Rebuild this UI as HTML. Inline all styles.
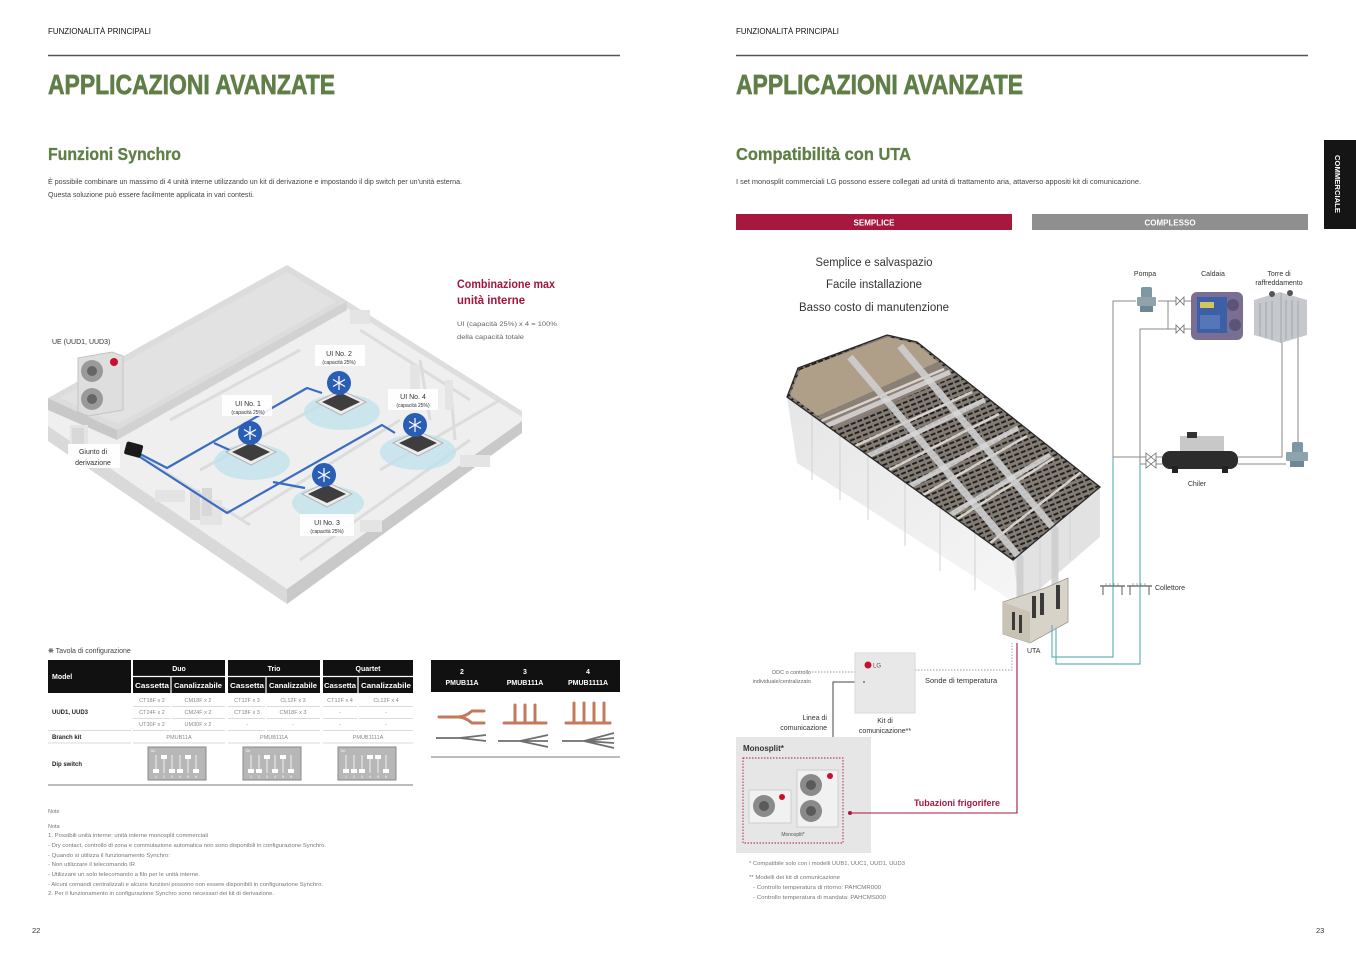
<!DOCTYPE html>
<html><head><meta charset="utf-8">
<style>
html,body{margin:0;padding:0;background:#fff;}
svg{display:block;font-family:"Liberation Sans",sans-serif;}
</style></head><body>
<svg width="1356" height="959" viewBox="0 0 1356 959" xmlns="http://www.w3.org/2000/svg" font-family="Liberation Sans, sans-serif">
<defs>
<pattern id="seats" width="7" height="5" patternUnits="userSpaceOnUse" patternTransform="rotate(-22)">
<rect width="7" height="5" fill="#837c75"/>
<rect x="0" y="1.2" width="5" height="1.9" fill="#1f1b18"/>
</pattern>
<linearGradient id="wallL" x1="0" y1="0" x2="1" y2="1"><stop offset="0" stop-color="#e6e6e6"/><stop offset="1" stop-color="#f6f6f6"/></linearGradient>
</defs>

<!-- ================= LEFT PAGE ================= -->
<text x="48" y="34" font-size="8.5" fill="#111" textLength="103" lengthAdjust="spacingAndGlyphs">FUNZIONALITÀ PRINCIPALI</text>
<line x1="48" y1="55.5" x2="620" y2="55.5" stroke="#555" stroke-width="1.6"/>
<text x="48" y="94" font-size="28" font-weight="bold" fill="#5f7f46" stroke="#5f7f46" stroke-width="0.7" textLength="287" lengthAdjust="spacingAndGlyphs">APPLICAZIONI AVANZATE</text>
<text x="48" y="160" font-size="17.5" font-weight="bold" fill="#5f7f46" stroke="#5f7f46" stroke-width="0.3" textLength="133" lengthAdjust="spacingAndGlyphs">Funzioni Synchro</text>
<text x="48" y="184" font-size="7" fill="#444" textLength="414" lengthAdjust="spacingAndGlyphs">È possibile combinare un massimo di 4 unità interne utilizzando un kit di derivazione e impostando il dip switch per un'unità esterna.</text>
<text x="48" y="197" font-size="7" fill="#444" textLength="206" lengthAdjust="spacingAndGlyphs">Questa soluzione può essere facilmente applicata in vari contesti.</text>

<!-- Left building -->
<g>
<polygon points="48,410 117,438 347,302 522,412 522,421 287,589 48,426" fill="#efefef"/>
<polygon points="48,426 287,589 287,604 48,441" fill="#d9d9d9"/>
<polygon points="287,589 522,421 522,433 287,604" fill="#c9c9c9"/>
<polygon points="347,301 522,411 522,417 347,308" fill="#dedede"/>
<!-- slab -->
<polygon points="48,398 287,265 347,301 117,430" fill="#dcdcdc"/>
<polygon points="60,398 287,272 336,302 118,424" fill="#e2e2e2"/>
<polygon points="48,398 117,430 117,440 48,410" fill="#c8c8c8"/>
<polygon points="117,430 347,301 347,310 117,440" fill="#d2d2d2"/>
<!-- interior partitions -->
<g stroke="#dcdcdc" stroke-width="3" fill="none">
<path d="M170,420 L300,350"/><path d="M200,470 L330,400"/><path d="M360,330 L470,400"/>
<path d="M300,560 L470,440"/><path d="M240,520 L400,420"/><path d="M130,450 L250,525"/>
<path d="M420,360 L430,420"/><path d="M450,380 L455,440"/><path d="M380,470 L500,400"/>
</g>
<g fill="#e4e4e4">
<rect x="70" y="425" width="18" height="22"/><rect x="200" y="500" width="22" height="25"/>
<rect x="155" y="490" width="30" height="12"/><rect x="410" y="365" width="10" height="28"/>
<rect x="445" y="380" width="8" height="30"/><rect x="350" y="310" width="20" height="14"/>
<rect x="460" y="455" width="30" height="12"/><rect x="360" y="520" width="22" height="12"/>
</g>
<g fill="#d8d8d8"><rect x="72" y="428" width="12" height="16"/><rect x="190" y="490" width="10" height="30"/><rect x="202" y="488" width="10" height="28"/></g>
<!-- glows -->
<g fill="#bfe2ed" opacity="0.75">
<ellipse cx="252" cy="462" rx="38" ry="18"/><ellipse cx="342" cy="412" rx="38" ry="18"/>
<ellipse cx="328" cy="503" rx="36" ry="17"/><ellipse cx="418" cy="452" rx="38" ry="18"/>
</g>
<!-- UE unit -->
<polygon points="78,358 112,352 123,356 123,410 88,416 78,412" fill="#dedede" stroke="#c4c4c4"/>
<circle cx="92" cy="371" r="11" fill="#9a9a9a"/><circle cx="92" cy="371" r="5" fill="#666"/>
<circle cx="92" cy="399" r="11" fill="#9a9a9a"/><circle cx="92" cy="399" r="5" fill="#666"/>
<circle cx="114" cy="362" r="4" fill="#c8102e"/>
<!-- pipes -->
<g fill="none" stroke="#3a6cc4" stroke-width="2.2" stroke-linejoin="round">
<path d="M140,454 L167,468 L307,388 L322,393"/>
<path d="M140,457 L227,513 L382,425 L395,433"/>
<path d="M273,482 L305,488"/>
<path d="M214,443 L234,452"/>
</g>
<rect x="125" y="443" width="17" height="13" rx="2" fill="#1a1a1a" transform="rotate(15 133 450)"/>
<!-- units -->
<g>
<polygon points="226,452 251,440 276,452 251,465" fill="#ececec" stroke="#b5b5b5"/>
<polygon points="232,452 251,443 270,452 251,461" fill="#3e3e3e"/>
<circle cx="250" cy="433" r="12" fill="#2a5db4"/>
<polygon points="316,402 341,390 366,402 341,415" fill="#ececec" stroke="#b5b5b5"/>
<polygon points="322,402 341,393 360,402 341,411" fill="#3e3e3e"/>
<circle cx="339" cy="383" r="12" fill="#2a5db4"/>
<polygon points="302,494 327,482 352,494 327,507" fill="#ececec" stroke="#b5b5b5"/>
<polygon points="308,494 327,485 346,494 327,503" fill="#3e3e3e"/>
<circle cx="324" cy="475" r="12" fill="#2a5db4"/>
<polygon points="393,443 418,431 443,443 418,456" fill="#ececec" stroke="#b5b5b5"/>
<polygon points="399,443 418,434 437,443 418,452" fill="#3e3e3e"/>
<circle cx="415" cy="425" r="12" fill="#2a5db4"/>
</g>
<g stroke="#fff" stroke-width="1.2">
<path d="M250,426 V440 M244,429.5 L256,436.5 M244,436.5 L256,429.5"/>
<path d="M339,376 V390 M333,379.5 L345,386.5 M333,386.5 L345,379.5"/>
<path d="M324,468 V482 M318,471.5 L330,478.5 M318,478.5 L330,471.5"/>
<path d="M415,418 V432 M409,421.5 L421,428.5 M409,428.5 L421,421.5"/>
</g>
<!-- labels -->
<g fill="#fff" opacity="0.9">
<rect x="222" y="395" width="50" height="21"/><rect x="315" y="345" width="50" height="21"/>
<rect x="388" y="389" width="50" height="21"/><rect x="300" y="514" width="54" height="22"/>
<rect x="68" y="444" width="52" height="24"/>
</g>
<g fill="#333" text-anchor="middle">
<text x="248" y="406" font-size="7">UI No. 1</text><text x="248" y="414" font-size="5">(capacità 25%)</text>
<text x="339" y="356" font-size="7">UI No. 2</text><text x="339" y="364" font-size="5">(capacità 25%)</text>
<text x="413" y="399" font-size="7">UI No. 4</text><text x="413" y="407" font-size="5">(capacità 25%)</text>
<text x="327" y="525" font-size="7">UI No. 3</text><text x="327" y="533" font-size="5">(capacità 25%)</text>
<text x="93" y="454" font-size="7">Giunto di</text><text x="93" y="465" font-size="7">derivazione</text>
</g>
<text x="52" y="344" font-size="7" fill="#333">UE (UUD1, UUD3)</text>
</g>

<text x="457" y="288" font-size="12" font-weight="bold" fill="#a3163c" textLength="98" lengthAdjust="spacingAndGlyphs">Combinazione max</text>
<text x="457" y="304" font-size="12" font-weight="bold" fill="#a3163c" textLength="68" lengthAdjust="spacingAndGlyphs">unità interne</text>
<text x="457" y="326" font-size="6.5" fill="#666" textLength="100" lengthAdjust="spacingAndGlyphs">UI (capacità 25%) x 4 = 100%</text>
<text x="457" y="339" font-size="6.5" fill="#666" textLength="67" lengthAdjust="spacingAndGlyphs">della capacità totale</text>

<!-- Table -->
<text x="48" y="653" font-size="7" fill="#444">❋ Tavola di configurazione</text>
<rect x="48" y="660" width="83" height="33" fill="#111"/>
<rect x="133" y="660" width="92" height="33" fill="#111"/>
<rect x="228" y="660" width="92" height="33" fill="#111"/>
<rect x="323" y="660" width="90" height="33" fill="#111"/>
<g stroke="#fff" stroke-width="1.2">
<line x1="133" y1="676.5" x2="225" y2="676.5"/><line x1="228" y1="676.5" x2="320" y2="676.5"/><line x1="323" y1="676.5" x2="413" y2="676.5"/>
<line x1="171" y1="677" x2="171" y2="693"/><line x1="266" y1="677" x2="266" y2="693"/><line x1="358" y1="677" x2="358" y2="693"/>
</g>
<g fill="#fff" font-weight="bold" font-size="7" text-anchor="middle">
<text x="52" y="679" text-anchor="start">Model</text>
<text x="179" y="671">Duo</text><text x="274" y="671">Trio</text><text x="368" y="671">Quartet</text>
<text x="152" y="688" textLength="34" lengthAdjust="spacingAndGlyphs">Cassetta</text>
<text x="198" y="688" textLength="48" lengthAdjust="spacingAndGlyphs">Canalizzabile</text>
<text x="247" y="688" textLength="34" lengthAdjust="spacingAndGlyphs">Cassetta</text>
<text x="293" y="688" textLength="48" lengthAdjust="spacingAndGlyphs">Canalizzabile</text>
<text x="340" y="688" textLength="32" lengthAdjust="spacingAndGlyphs">Cassetta</text>
<text x="386" y="688" textLength="50" lengthAdjust="spacingAndGlyphs">Canalizzabile</text>
</g>
<g fill="#888" font-size="5.5" text-anchor="middle">
<text x="152" y="702">CT18F x 2</text><text x="198" y="702">CM18F x 2</text><text x="247" y="702">CT12F x 3</text><text x="293" y="702">CL12F x 3</text><text x="340" y="702">CT12F x 4</text><text x="386" y="702">CL12F x 4</text>
<text x="152" y="714">CT24F x 2</text><text x="198" y="714">CM24F x 2</text><text x="247" y="714">CT18F x 3</text><text x="293" y="714">CM18F x 3</text><text x="340" y="714">-</text><text x="386" y="714">-</text>
<text x="152" y="726">UT30F x 2</text><text x="198" y="726">UM30F x 2</text><text x="247" y="726">-</text><text x="293" y="726">-</text><text x="340" y="726">-</text><text x="386" y="726">-</text>
<text x="179" y="739">PMUB11A</text><text x="274" y="739">PMUB111A</text><text x="368" y="739">PMUB1111A</text>
</g>
<g stroke="#d0d0d0" stroke-width="0.8">
<path d="M133,706.5 H170 M172,706.5 H225 M228,706.5 H265 M267,706.5 H320 M323,706.5 H357 M359,706.5 H413"/>
<path d="M133,718.5 H170 M172,718.5 H225 M228,718.5 H265 M267,718.5 H320 M323,718.5 H357 M359,718.5 H413"/>
<path d="M48,730.5 H131 M133,730.5 H170 M172,730.5 H225 M228,730.5 H265 M267,730.5 H320 M323,730.5 H357 M359,730.5 H413"/>
<path d="M48,743 H131 M133,743 H225 M228,743 H320 M323,743 H413"/>
</g>
<text x="52" y="714" font-size="6" font-weight="bold" fill="#222">UUD1, UUD3</text>
<text x="52" y="739" font-size="6" font-weight="bold" fill="#222">Branch kit</text>
<text x="52" y="766" font-size="6" font-weight="bold" fill="#222">Dip switch</text>
<line x1="48" y1="785" x2="413" y2="785" stroke="#bdbdbd" stroke-width="2"/>

<!-- dip switches -->
<g>
<rect x="148" y="747" width="58" height="33" fill="#b7b7b7" stroke="#8a8a8a"/>
<rect x="243" y="747" width="58" height="33" fill="#b7b7b7" stroke="#8a8a8a"/>
<rect x="338" y="747" width="58" height="33" fill="#b7b7b7" stroke="#8a8a8a"/>
<g fill="none" stroke="#fff" stroke-width="0.8">
<path d="M156,755 v18 M164,755 v18 M172,755 v18 M180,755 v18 M188,755 v18 M196,755 v18"/>
<path d="M251,755 v18 M259,755 v18 M267,755 v18 M275,755 v18 M283,755 v18 M291,755 v18"/>
<path d="M346,755 v18 M354,755 v18 M362,755 v18 M370,755 v18 M378,755 v18 M386,755 v18"/>
</g>
<g fill="#fff">
<rect x="153" y="769" width="6" height="4"/><rect x="161" y="755" width="6" height="4"/><rect x="169" y="769" width="6" height="4"/><rect x="177" y="769" width="6" height="4"/><rect x="185" y="755" width="6" height="4"/><rect x="193" y="769" width="6" height="4"/>
<rect x="248" y="769" width="6" height="4"/><rect x="256" y="769" width="6" height="4"/><rect x="264" y="755" width="6" height="4"/><rect x="272" y="769" width="6" height="4"/><rect x="280" y="755" width="6" height="4"/><rect x="288" y="769" width="6" height="4"/>
<rect x="343" y="769" width="6" height="4"/><rect x="351" y="769" width="6" height="4"/><rect x="359" y="769" width="6" height="4"/><rect x="367" y="755" width="6" height="4"/><rect x="375" y="755" width="6" height="4"/><rect x="383" y="769" width="6" height="4"/>
</g>
<g fill="#fff" font-size="3.5" text-anchor="middle">
<text x="156" y="778">1</text><text x="164" y="778">2</text><text x="172" y="778">3</text><text x="180" y="778">4</text><text x="188" y="778">5</text><text x="196" y="778">6</text>
<text x="251" y="778">1</text><text x="259" y="778">2</text><text x="267" y="778">3</text><text x="275" y="778">4</text><text x="283" y="778">5</text><text x="291" y="778">6</text>
<text x="346" y="778">1</text><text x="354" y="778">2</text><text x="362" y="778">3</text><text x="370" y="778">4</text><text x="378" y="778">5</text><text x="386" y="778">6</text>
<text x="153" y="752">On</text><text x="248" y="752">On</text><text x="343" y="752">On</text>
</g>
</g>

<!-- right table -->
<rect x="431" y="660" width="189" height="32" fill="#111"/>
<g fill="#fff" font-size="7" font-weight="bold" text-anchor="middle">
<text x="462" y="674">2</text><text x="462" y="685">PMUB11A</text>
<text x="525" y="674">3</text><text x="525" y="685">PMUB111A</text>
<text x="588" y="674">4</text><text x="588" y="685">PMUB1111A</text>
</g>
<g fill="none" stroke="#c47a5a" stroke-width="3" stroke-linecap="round">
<path d="M439,717 H458 Q465,717 472,711 H484 M458,717 Q465,717 472,723 H484"/>
<path d="M504,723 H546 M515,723 V705 M525,723 V705 M535,723 V705"/>
<path d="M566,723 H610 M574,723 V703 M584,723 V703 M594,723 V703 M604,723 V703"/>
</g>
<g fill="none" stroke="#6f6f6f" stroke-width="1.8">
<path d="M436,738 H460 L486,735 M460,738 L486,741"/>
<path d="M498,741 H520 L548,735 M520,741 L548,741 M520,741 L548,747"/>
<path d="M562,741 H584 L614,733 M584,741 L614,738 M584,741 L614,743 M584,741 L614,748"/>
</g>
<line x1="431" y1="757" x2="620" y2="757" stroke="#bdbdbd" stroke-width="2"/>

<!-- notes -->
<g fill="#777" font-size="5.5">
<text x="48" y="813">Note</text>
<text x="48" y="828">Nota</text>
<text x="48" y="837" textLength="160" lengthAdjust="spacingAndGlyphs">1. Possibili unità interne: unità interne monosplit commerciali</text>
<text x="48" y="847" textLength="278" lengthAdjust="spacingAndGlyphs">- Dry contact, controllo di zona e commutazione automatica non sono disponibili in configurazione Synchro.</text>
<text x="48" y="857" textLength="122" lengthAdjust="spacingAndGlyphs">- Quando si utilizza il funzionamento Synchro:</text>
<text x="48" y="866" textLength="87" lengthAdjust="spacingAndGlyphs">- Non utilizzare il telecomando IR</text>
<text x="48" y="876" textLength="152" lengthAdjust="spacingAndGlyphs">- Utilizzare un solo telecomando a filo per le unità interne.</text>
<text x="48" y="886" textLength="275" lengthAdjust="spacingAndGlyphs">- Alcuni comandi centralizzati e alcune funzioni possono non essere disponibili in configurazione Synchro.</text>
<text x="48" y="895" textLength="226" lengthAdjust="spacingAndGlyphs">2. Per il funzionamento in configurazione Synchro sono necessari dei kit di derivazione.</text>
</g>
<text x="32" y="933" font-size="7.5" fill="#333">22</text>

<!-- ================= RIGHT PAGE ================= -->
<text x="736" y="34" font-size="8.5" fill="#111" textLength="103" lengthAdjust="spacingAndGlyphs">FUNZIONALITÀ PRINCIPALI</text>
<line x1="736" y1="55.5" x2="1308" y2="55.5" stroke="#555" stroke-width="1.6"/>
<text x="736" y="94" font-size="28" font-weight="bold" fill="#5f7f46" stroke="#5f7f46" stroke-width="0.7" textLength="287" lengthAdjust="spacingAndGlyphs">APPLICAZIONI AVANZATE</text>
<text x="736" y="160" font-size="17.5" font-weight="bold" fill="#5f7f46" stroke="#5f7f46" stroke-width="0.3" textLength="175" lengthAdjust="spacingAndGlyphs">Compatibilità con UTA</text>
<text x="736" y="184" font-size="7" fill="#444" textLength="405" lengthAdjust="spacingAndGlyphs">I set monosplit commerciali LG possono essere collegati ad unitá di trattamento aria, attaverso appositi kit di comunicazione.</text>

<rect x="1324" y="140" width="32" height="89" fill="#151515"/>
<text x="1335" y="184" font-size="7" font-weight="bold" fill="#fff" text-anchor="middle" transform="rotate(90 1335 184)" textLength="58" lengthAdjust="spacingAndGlyphs">COMMERCIALE</text>

<rect x="736" y="214" width="276" height="16" fill="#a8173d"/>
<rect x="1032" y="214" width="276" height="16" fill="#8f8f8f"/>
<text x="874" y="225.5" font-size="8" font-weight="bold" fill="#fff" text-anchor="middle">SEMPLICE</text>
<text x="1170" y="225.5" font-size="8" font-weight="bold" fill="#fff" text-anchor="middle">COMPLESSO</text>

<g fill="#333" font-size="11.5" text-anchor="middle">
<text x="874" y="266" textLength="117" lengthAdjust="spacingAndGlyphs">Semplice e salvaspazio</text>
<text x="874" y="288" textLength="96" lengthAdjust="spacingAndGlyphs">Facile installazione</text>
<text x="874" y="311" textLength="150" lengthAdjust="spacingAndGlyphs">Basso costo di manutenzione</text>
</g>

<!-- right building -->
<g>
<polygon points="787,397 1013,560 1020,606 797,463" fill="url(#wallL)"/>
<polygon points="1013,560 1100,487 1100,537 1020,606" fill="#e2e2e2"/>
<g stroke="#d2d2d2" stroke-width="1">
<path d="M812,415 V480 M840,435 V500 M868,455 V520 M905,481 V546 M940,506 V571 M975,531 V590 M1040,540 V590 M1070,514 V560"/>
</g>
<polygon points="787,397 798,368 887,335 917,342 1100,487 1013,560" fill="url(#seats)"/>
<polygon points="790,395 800,370 888,337 917,344 938,362 818,416" fill="#b09f88"/>
<polygon points="818,416 938,362 955,376 835,428" fill="#8a8076"/>
<!-- interior walls -->
<g stroke="#e2ddd5" stroke-width="2.5" fill="none" opacity="0.9">
<path d="M821,421 L944,369"/><path d="M855,446 L972,392"/><path d="M889,470 L999,414"/>
<path d="M923,495 L1027,436"/><path d="M957,519 L1054,458"/><path d="M990,543 L1081,472"/>
</g>
<!-- ducts -->
<g stroke="#cfcfcf" stroke-width="7" fill="none" opacity="0.9" stroke-linecap="butt">
<path d="M850,357 L1020,558 V604"/>
<path d="M900,346 L1055,530 V594"/>
</g>
<g stroke="#d9d9d9" stroke-width="5" fill="none" opacity="0.85">
<path d="M826,426 L950,372"/><path d="M868,456 L985,400"/><path d="M910,486 L1018,428"/><path d="M950,515 L1050,455"/>
</g>
<polygon points="787,397 798,368 887,335 917,342 1100,487 1013,560" fill="none" stroke="#2a2a2a" stroke-width="1.3"/>
<!-- UTA -->
<polygon points="1003,602 1045,588 1068,578 1068,622 1030,643 1003,634" fill="#d8d3c8" stroke="#9c968a" stroke-width="0.8"/>
<polygon points="1003,602 1030,612 1030,643 1003,634" fill="#c9c3b6"/>
<g fill="#3a3a3a"><rect x="1032" y="596" width="4" height="22"/><rect x="1040" y="593" width="4" height="22"/><rect x="1056" y="585" width="4" height="24"/><rect x="1012" y="612" width="3" height="18"/><rect x="1019" y="615" width="3" height="18"/></g>
</g>
<text x="1027" y="653" font-size="7" fill="#333">UTA</text>

<!-- piping diagram -->
<g fill="none" stroke="#8a8a8a" stroke-width="1">
<path d="M1113,457 V301 H1136 M1158,301 H1176 M1184,301 H1192"/>
<path d="M1168,301 V329"/>
<path d="M1140,464 V329 H1176 M1184,329 H1192"/>
<path d="M1113,457 H1146 M1156,457 H1163"/>
<path d="M1140,464 H1146 M1156,464 H1163"/>
<path d="M1238,457 H1282 V342"/>
<path d="M1238,464 H1286 M1298,443 V332"/>
</g>
<g fill="none" stroke="#63b3bb" stroke-width="1.2">
<path d="M1113,457 V657 H1052 V625"/>
<path d="M1140,464 V664 H1056 V628"/>
</g>
<!-- valves -->
<g fill="#fff" stroke="#6a6a6a" stroke-width="0.8">
<path d="M1176,297 L1180,301 L1176,305 Z M1184,297 L1180,301 L1184,305 Z"/>
<path d="M1176,325 L1180,329 L1176,333 Z M1184,325 L1180,329 L1184,333 Z"/>
<path d="M1146,453 L1151,457 L1146,461 Z M1156,453 L1151,457 L1156,461 Z"/>
<path d="M1146,460 L1151,464 L1146,468 Z M1156,460 L1151,464 L1156,468 Z"/>
</g>
<!-- pump 1 -->
<g>
<rect x="1141" y="287" width="11" height="11" rx="2" fill="#7d97a4"/>
<rect x="1137" y="297" width="19" height="9" rx="1" fill="#8fa3ad"/>
<rect x="1140" y="306" width="13" height="6" fill="#6f8795"/>
</g>
<!-- caldaia -->
<g>
<rect x="1191" y="292" width="52" height="48" rx="6" fill="#7a6f92"/>
<rect x="1197" y="297" width="30" height="36" fill="#3d5fa8"/>
<rect x="1200" y="302" width="14" height="6" fill="#d8c25a"/>
<circle cx="1233" cy="305" r="6" fill="#5b5475"/><circle cx="1235" cy="325" r="6" fill="#5b5475"/>
<rect x="1200" y="315" width="20" height="14" fill="#5577b8"/>
</g>
<!-- tower -->
<g>
<polygon points="1254,300 1280,292 1307,300 1307,335 1281,343 1254,335" fill="#c5c9cd"/>
<g stroke="#9aa0a6" stroke-width="0.8"><path d="M1260,303 V336 M1266,302 V338 M1272,301 V340 M1286,300 V340 M1292,300 V338 M1298,301 V337 M1281,293 V343"/></g>
<circle cx="1272" cy="294" r="3" fill="#555"/><circle cx="1290" cy="293" r="3" fill="#555"/>
</g>
<!-- chiller -->
<g>
<rect x="1180" y="436" width="44" height="16" fill="#c8c8c8"/>
<rect x="1187" y="432" width="10" height="6" fill="#333"/>
<rect x="1162" y="451" width="76" height="18" rx="8" fill="#2c2c2c"/>
<rect x="1172" y="466" width="6" height="7" fill="#222"/><rect x="1222" y="466" width="6" height="7" fill="#222"/>
</g>
<!-- pump 2 -->
<g>
<rect x="1292" y="442" width="11" height="11" rx="2" fill="#7d97a4"/>
<rect x="1286" y="452" width="22" height="9" rx="1" fill="#8fa3ad"/>
<rect x="1290" y="461" width="14" height="6" fill="#6f8795"/>
</g>
<!-- collettore -->
<g stroke="#777" fill="none">
<path d="M1100,586 H1125 M1127,586 H1152" stroke-width="1.6"/>
<path d="M1103,586 V595 M1122,586 V595 M1130,586 V595 M1149,586 V595" stroke-width="1.2"/>
<path d="M1106,583 V586 M1110,583 V586 M1114,583 V586 M1118,583 V586 M1133,583 V586 M1137,583 V586 M1141,583 V586 M1145,583 V586" stroke-width="0.6"/>
</g>
<g fill="#333" font-size="7" text-anchor="middle">
<text x="1145" y="276">Pompa</text>
<text x="1213" y="276">Caldaia</text>
<text x="1279" y="276">Torre di</text>
<text x="1279" y="285">raffreddamento</text>
<text x="1197" y="486">Chiler</text>
</g>
<text x="1155" y="590" font-size="7" fill="#333">Collettore</text>

<!-- control side -->
<g fill="none" stroke="#9a9a9a" stroke-width="0.9" stroke-dasharray="1.5,1.5">
<path d="M812,672 H855"/>
<path d="M915,670 H1012 V643"/>
</g>
<path d="M855,682 H833 V748" fill="none" stroke="#444" stroke-width="1"/>
<circle cx="833" cy="748" r="2" fill="#333"/>
<rect x="855" y="653" width="60" height="60" fill="#e8e8e8" stroke="#dadada"/>
<circle cx="868" cy="665" r="3.5" fill="#c8102e"/>
<text x="873" y="667.5" font-size="6" fill="#555">LG</text>
<circle cx="864" cy="682" r="1" fill="#777"/>
<rect x="736" y="737" width="135" height="116" fill="#e6e6e6"/>
<rect x="743" y="758" width="100" height="85" fill="none" stroke="#a8173d" stroke-width="0.9" stroke-dasharray="1.5,1.5"/>
<!-- monosplit units -->
<g>
<rect x="749" y="790" width="42" height="33" fill="#f1f1f1" stroke="#cfcfcf"/>
<circle cx="764" cy="806" r="11" fill="#8a8a8a"/><circle cx="764" cy="806" r="5" fill="#5a5a5a"/>
<circle cx="782" cy="797" r="3" fill="#c8102e"/>
<rect x="797" y="770" width="41" height="57" fill="#f1f1f1" stroke="#cfcfcf"/>
<circle cx="811" cy="785" r="11" fill="#8a8a8a"/><circle cx="811" cy="785" r="5" fill="#5a5a5a"/>
<circle cx="811" cy="811" r="11" fill="#8a8a8a"/><circle cx="811" cy="811" r="5" fill="#5a5a5a"/>
<circle cx="830" cy="776" r="3" fill="#c8102e"/>
</g>
<path d="M850,813 H1017 V643" fill="none" stroke="#a8173d" stroke-width="1.1"/>
<circle cx="850" cy="813" r="2" fill="#a8173d"/>
<text x="743" y="751" font-size="8" fill="#333" font-weight="bold">Monosplit*</text>
<text x="793" y="836" font-size="5" fill="#555" text-anchor="middle">Monosplit*</text>
<g fill="#666" font-size="5.5" text-anchor="end">
<text x="811" y="674">DDC o controllo</text>
<text x="811" y="683">individuale/centralizzato</text>
</g>
<text x="925" y="683" font-size="7.5" fill="#333">Sonde di temperatura</text>
<g fill="#333" font-size="7" text-anchor="middle">
<text x="885" y="723">Kit di</text><text x="885" y="733">comunicazione**</text>
</g>
<g fill="#333" font-size="7" text-anchor="end">
<text x="827" y="720">Linea di</text><text x="827" y="730">comunicazione</text>
</g>
<text x="914" y="806" font-size="9.5" font-weight="bold" fill="#a8173d" textLength="86" lengthAdjust="spacingAndGlyphs">Tubazioni frigorifere</text>
<g fill="#777" font-size="5">
<text x="749" y="865" textLength="156" lengthAdjust="spacingAndGlyphs">* Compatibile solo con i modelli UUB1, UUC1, UUD1, UUD3</text>
<text x="749" y="879" textLength="91" lengthAdjust="spacingAndGlyphs">** Modelli dei kit di comunicazione</text>
<text x="753" y="889" textLength="128" lengthAdjust="spacingAndGlyphs">- Controllo temperatura di ritorno: PAHCMR000</text>
<text x="753" y="899" textLength="133" lengthAdjust="spacingAndGlyphs">- Controllo temperatura di mandata: PAHCMS000</text>
</g>
<text x="1316" y="933" font-size="7.5" fill="#333">23</text>
</svg>
</body></html>
